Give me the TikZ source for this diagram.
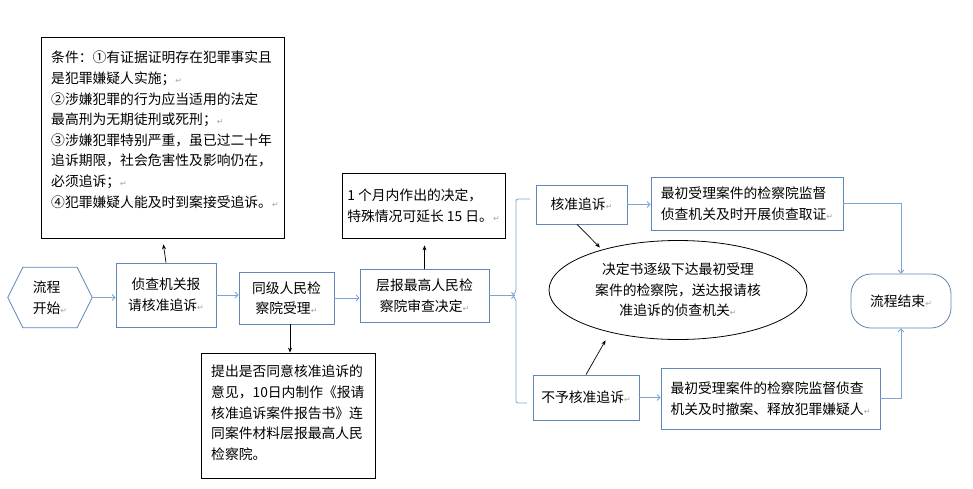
\documentclass[tikz,border=0pt]{standalone}
\usepackage{fontspec}
\setmainfont{Noto Sans CJK SC}
\newfontfamily\dejavu{DejaVu Sans}
\usetikzlibrary{arrows.meta,shapes.geometric}
\definecolor{boxblue}{RGB}{95,135,185}
\definecolor{lineblue}{RGB}{125,165,210}
\newcommand\pmk{{\color{black!35}\dejavu\fontsize{8}{8}\selectfont\char"21B5}}
\begin{document}
\begin{tikzpicture}[x=1pt,y=-1pt,
  every node/.style={font=\fontsize{13.8}{20.6}\selectfont, text=black},
  flowbox/.style={draw=boxblue, line width=0.8pt, inner sep=0pt, align=center},
  notebox/.style={draw=black, line width=0.8pt, inner sep=0pt},
  flow/.style={draw=lineblue, line width=0.8pt, -{Straight Barb[length=3pt,width=6pt]}},
  note/.style={draw=black, line width=0.7pt, -{Stealth[length=5pt,width=4pt]}},
]
\useasboundingbox (0,0) rectangle (973,488);
\fill[white] (0,0) rectangle (973,488);

% start hexagon
\node[minimum width=84, minimum height=60, inner sep=0pt, align=left] (start) at (50,297.5) {流程\\开始\pmk};
\draw[boxblue, line width=0.8pt] (start.west) -- ([xshift=15pt]start.north west) -- ([xshift=-15pt]start.north east) -- (start.east) -- ([xshift=-15pt]start.south east) -- ([xshift=15pt]start.south west) -- cycle;

% main flow boxes
\node[flowbox, minimum width=100, minimum height=64] (b1) at (166,295) {侦查机关报\\请核准追诉\pmk};
\node[flowbox, minimum width=95, minimum height=52] (b2) at (286.5,298) {同级人民检\\察院受理\pmk};
\node[flowbox, minimum width=129, minimum height=53] (b3) at (424.5,295.5) {层报最高人民检\\察院审查决定\pmk};

% note boxes
\node[notebox, minimum width=243, minimum height=201] (cond) at (162.5,137.5) {};
\node[anchor=north west, inner sep=0pt, align=left] (condtxt) at (51,51) {条件：①有证据证明存在犯罪事实且\\是犯罪嫌疑人实施；\pmk\\②涉嫌犯罪的行为应当适用的法定\\最高刑为无期徒刑或死刑；\pmk\\③涉嫌犯罪特别严重，虽已过二十年\\追诉期限，社会危害性及影响仍在，\\必须追诉；\pmk\\④犯罪嫌疑人能及时到案接受追诉。\pmk};
\node[notebox, minimum width=174, minimum height=125] (note2) at (288,415.5) {};
\node[anchor=north west, inner sep=0pt, align=left] (note2txt) at (211,365) {提出是否同意核准追诉的\\意见，10日内制作《报请\\核准追诉案件报告书》连\\同案件材料层报最高人民\\检察院。};
\node[notebox, minimum width=163, minimum height=65, align=left] (note3) at (423.5,205.5) {1 个月内作出的决定，\\特殊情况可延长 15 日。\pmk};

% decision part
\node[draw=black, line width=0.8pt, ellipse, minimum width=258, minimum height=99, inner sep=0pt, align=center] (ell) at (678,290) {决定书逐级下达最初受理\\案件的检察院，送达报请核\\准追诉的侦查机关\pmk};
\node[flowbox, minimum width=91, minimum height=39] (yes) at (581.5,204.5) {核准追诉\pmk};
\node[flowbox, minimum width=192, minimum height=53, align=left] (yesres) at (747,203.5) {最初受理案件的检察院监督\\侦查机关及时开展侦查取证\pmk};
\node[flowbox, minimum width=106, minimum height=45] (no) at (586,397.5) {不予核准追诉\pmk};
\node[flowbox, minimum width=219, minimum height=61, align=left] (nores) at (770.5,398.5) {最初受理案件的检察院监督侦查\\机关及时撤案、释放犯罪嫌疑人\pmk};
\node[flowbox, minimum width=100, minimum height=54, rounded corners=20pt] (end) at (901,301) {流程结束\pmk};

% bracket
\coordinate (brk) at (515,295.5);
\draw[lineblue, line width=0.8pt, rounded corners=2pt] (530,199) -- (516,199) -- (516,292) -- (512,295.5) -- (516,299) -- (516,403) -- (527,403);

% connectors
\draw[flow] (start.east) -- (start.east -| b1.west);
\draw[flow] (b1.east) -- (b1.east -| b2.west);
\draw[flow] (b2.east) -- (b2.east -| b3.west);
\draw[flow] (b3.east) -- (b3.east -| brk);
\draw[flow] (yes.east) -- (yes.east -| yesres.west);
\draw[flow] (no.east) -- (no.east -| nores.west);
\draw[flow] (yesres.east) -| (end.north);
\draw[flow] (nores.east) -| (end.south);

\draw[note, shorten >=6pt] (b1.north) -- (cond.south);
\draw[note] ([xshift=3.5pt]b2.south) -- ([xshift=3.5pt]b2.south |- note2.north);
\draw[note, shorten >=7pt] (b3.north) -- (b3.north |- note3.south);
\draw[note, shorten >=3pt] ([xshift=-4.5pt]yes.south) -- (ell.152);
\draw[note, shorten >=9pt] (no.north) -- (ell.212);
\end{tikzpicture}
\end{document}
